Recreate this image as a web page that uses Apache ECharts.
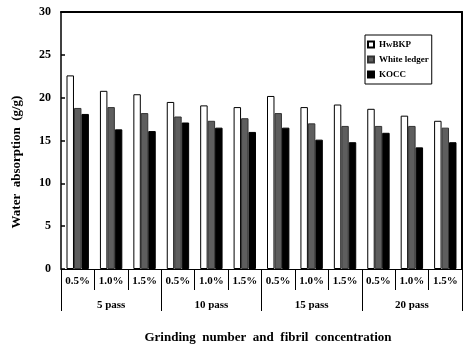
<!DOCTYPE html>
<html>
<head>
<meta charset="utf-8">
<script src="https://cdn.jsdelivr.net/npm/echarts@6/dist/echarts.min.js"></script>
<style>
html,body{margin:0;padding:0;background:#fff;}
#chart{width:474px;height:356px;}
</style>
</head>
<body>
<div id="chart"></div>
<script>
var concentrations = ['0.5%','1.0%','1.5%','0.5%','1.0%','1.5%','0.5%','1.0%','1.5%','0.5%','1.0%','1.5%'];
var passes = ['5 pass','10 pass','15 pass','20 pass'];
var seriesNames = ['HwBKP','White ledger','KOCC'];
var hwbkp = [22.6, 20.8, 20.4, 19.5, 19.1, 18.9, 20.2, 18.9, 19.2, 18.7, 17.9, 17.3];
var whiteLedger = [18.8, 18.9, 18.2, 17.8, 17.3, 17.6, 18.2, 17.0, 16.7, 16.7, 16.7, 16.5];
var kocc = [18.1, 16.3, 16.1, 17.1, 16.5, 16.0, 16.5, 15.1, 14.8, 15.9, 14.2, 14.8];
var yTicks = {min: 0, max: 30, step: 5};

var FONT = '"Liberation Serif", "Times New Roman", serif';
var chart = echarts.init(document.getElementById('chart'), null, {renderer: 'canvas'});

function barSeries(name, data, color, border) {
  return {
    name: name, type: 'bar', data: data, xAxisIndex: 0, yAxisIndex: 0,
    barGap: '0%', barCategoryGap: '33%',
    itemStyle: {color: color, borderColor: border, borderWidth: 1},
    emphasis: {disabled: true}
  };
}

chart.setOption({
  animation: false,
  backgroundColor: '#fff',
  grid: {left: 61, right: 12, top: 12, bottom: 87, containLabel: false},
  legend: {
    orient: 'vertical', left: 365, top: 35,
    data: seriesNames,
    borderColor: '#000', borderWidth: 1,
    padding: [5, 3, 5, 2],
    itemWidth: 6, itemHeight: 6, itemGap: 6,
    icon: 'rect',
    textStyle: {fontFamily: FONT, fontWeight: 'bold', fontSize: 9, color: '#000'}
  },
  xAxis: [
    {
      type: 'category', data: concentrations, position: 'bottom',
      axisLine: {show: true, lineStyle: {color: '#000', width: 1}},
      axisTick: {show: true, interval: 0, length: 21, lineStyle: {color: '#000', width: 1}},
      axisLabel: {interval: 0, margin: 7, color: '#000', fontFamily: FONT, fontWeight: 'bold', fontSize: 11},
      splitLine: {show: false}
    },
    {
      type: 'category', data: passes, position: 'bottom', offset: 0,
      axisLine: {show: false},
      axisTick: {show: true, interval: 0, length: 42, lineStyle: {color: '#000', width: 1}},
      axisLabel: {interval: 0, margin: 31, color: '#000', fontFamily: FONT, fontWeight: 'bold', fontSize: 11},
      splitLine: {show: false}
    },
    {
      type: 'category', data: passes, position: 'top',
      axisLine: {show: true, lineStyle: {color: '#000', width: 2}},
      axisTick: {show: false}, axisLabel: {show: false}, splitLine: {show: false}
    }
  ],
  yAxis: [
    {
      type: 'value', min: yTicks.min, max: yTicks.max, interval: yTicks.step,
      axisLine: {show: true, lineStyle: {color: '#000', width: 1.5}},
      axisTick: {show: true, inside: true, length: 4, lineStyle: {color: '#000', width: 1.5}},
      axisLabel: {margin: 10, color: '#000', fontFamily: FONT, fontWeight: 'bold', fontSize: 12},
      splitLine: {show: false}
    },
    {
      type: 'value', position: 'right', min: yTicks.min, max: yTicks.max,
      axisLine: {show: true, lineStyle: {color: '#000', width: 2}},
      axisTick: {show: false}, axisLabel: {show: false}, splitLine: {show: false}
    }
  ],
  graphic: [
    {
      type: 'text', x: 17, y: 162, rotation: Math.PI / 2,
      style: {text: 'Water  absorption  (g/g)', fill: '#000', font: 'bold 13px ' + FONT, align: 'center', verticalAlign: 'middle'}
    },
    {
      type: 'text', x: 268, y: 338,
      style: {text: 'Grinding  number  and  fibril  concentration', fill: '#000', font: 'bold 13px ' + FONT, align: 'center', verticalAlign: 'middle'}
    }
  ],
  series: [
    barSeries(seriesNames[0], hwbkp, '#ffffff', '#000'),
    barSeries(seriesNames[1], whiteLedger, '#5e5e5e', '#333'),
    barSeries(seriesNames[2], kocc, '#000000', '#000')
  ]
});
</script>
</body>
</html>
